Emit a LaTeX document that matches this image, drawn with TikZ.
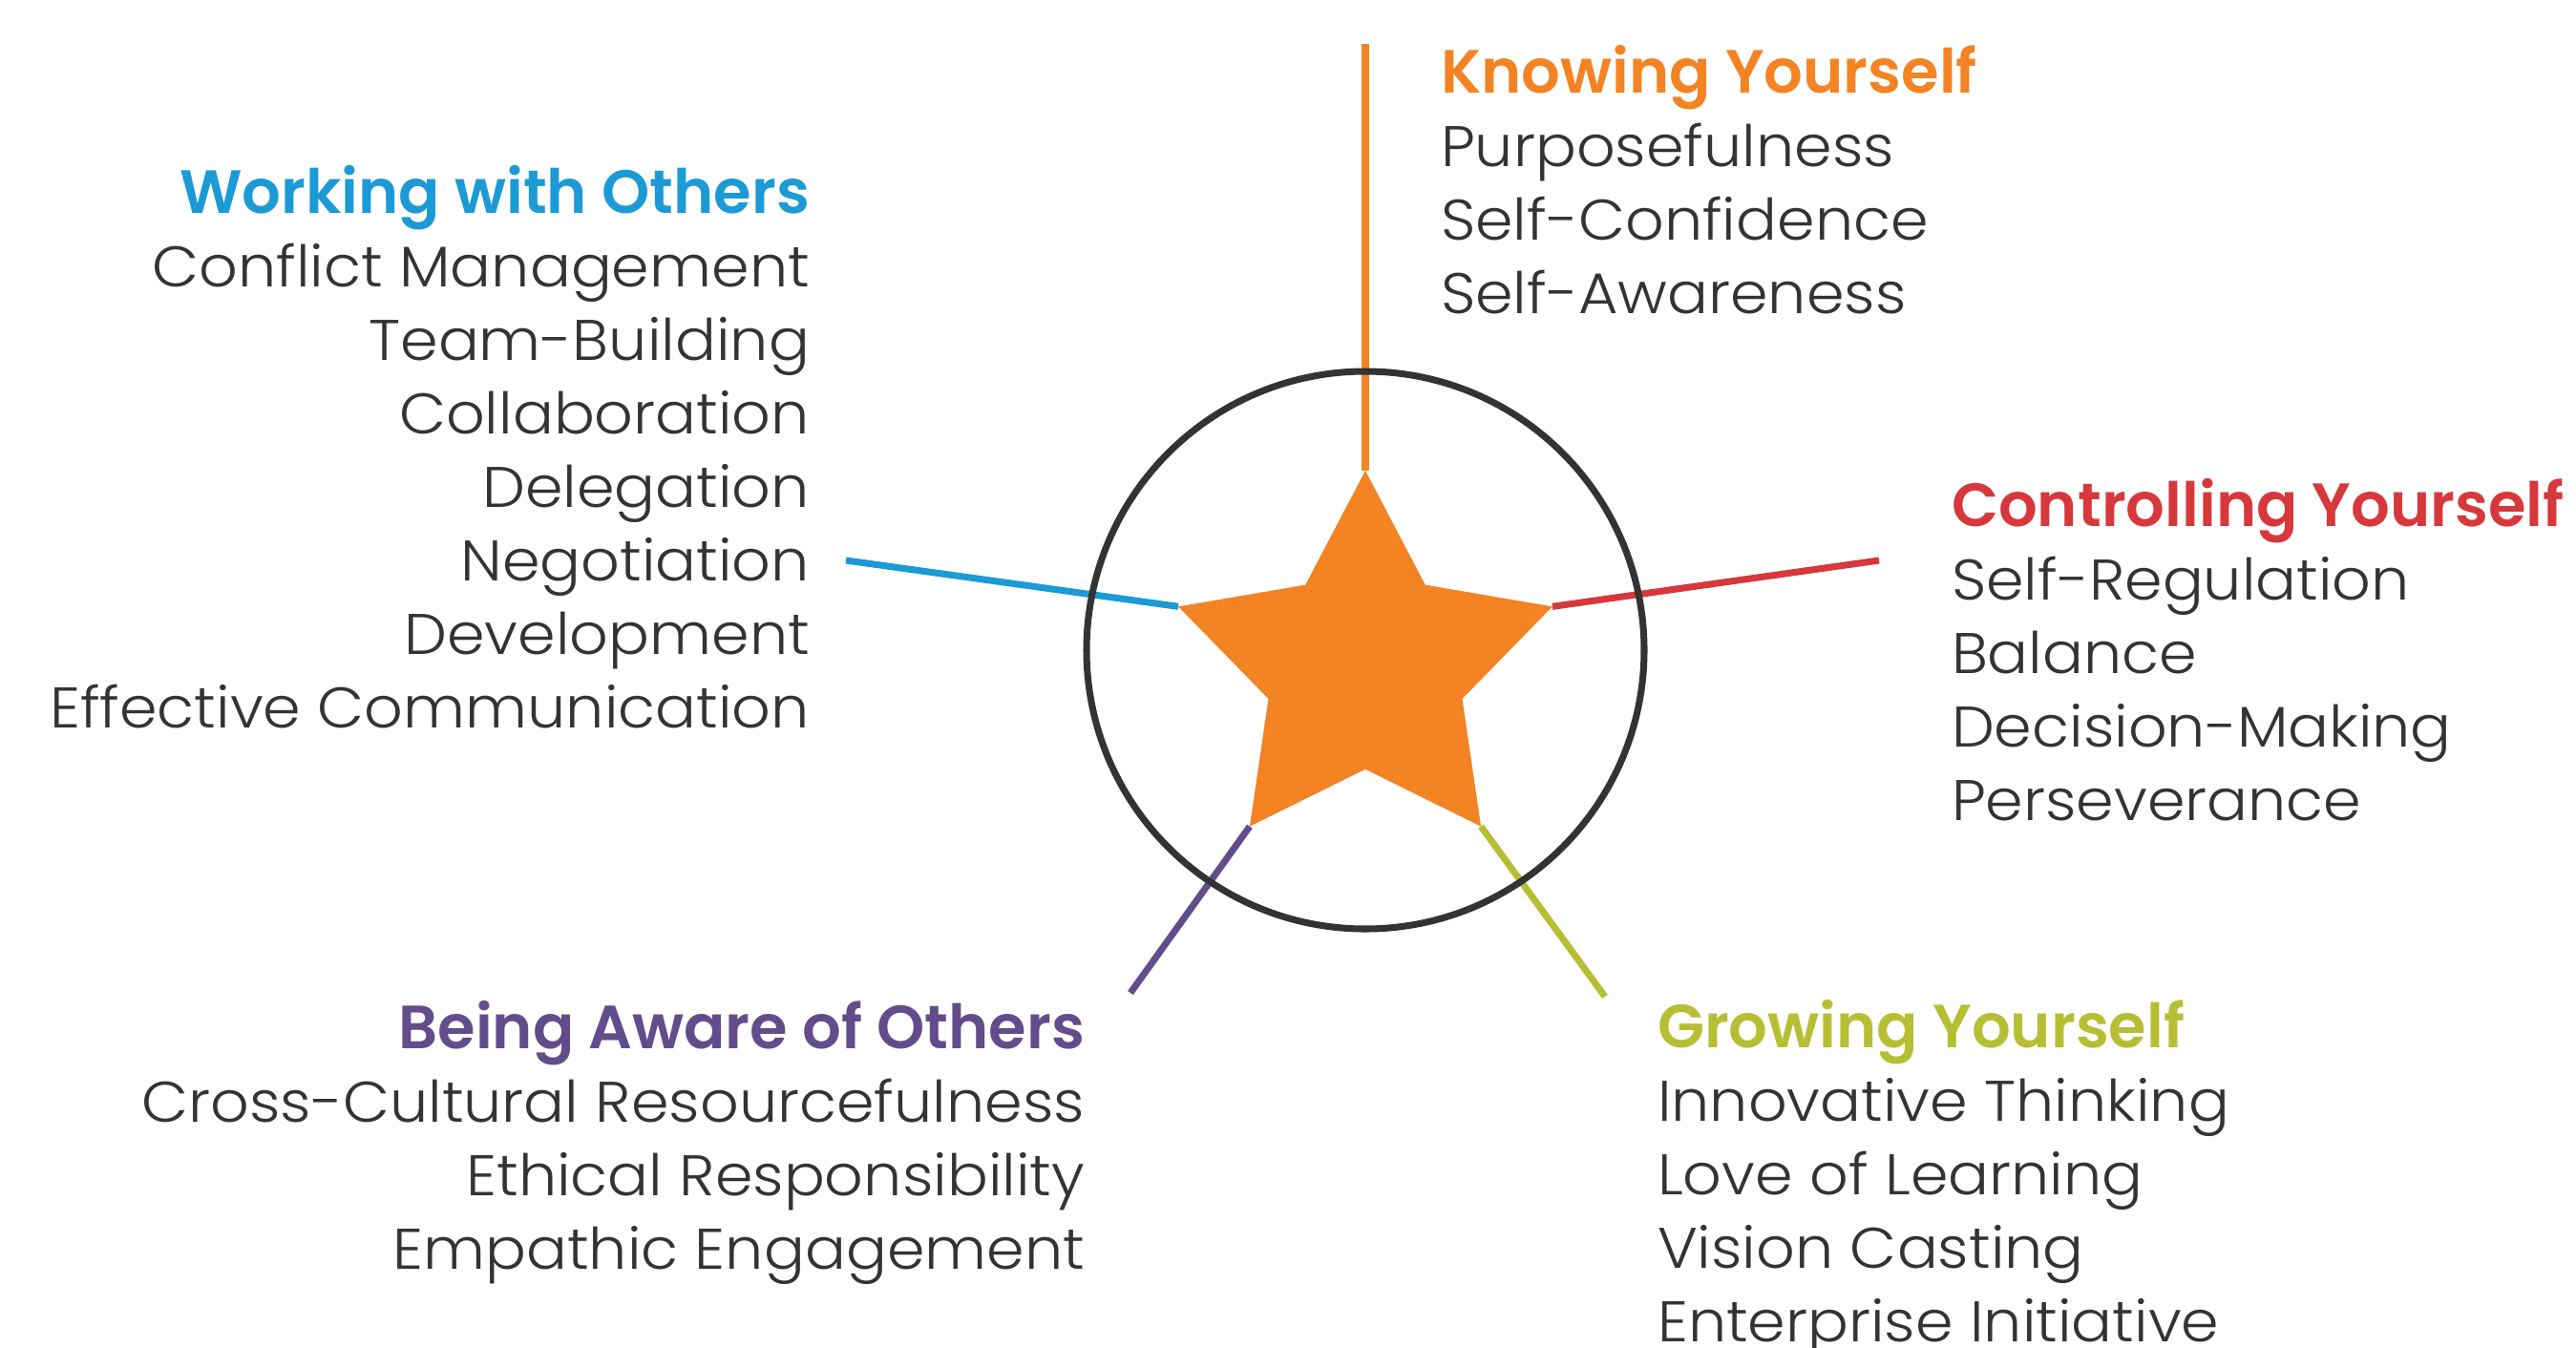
\documentclass[tikz,border=0pt]{standalone}
\usepackage{fontspec}
\newfontfamily\lightfont{Poppins Light}[FakeStretch=1.06]
\newfontfamily\headfont{Poppins SemiBold}
\usetikzlibrary{shapes.geometric, positioning}
\definecolor{knoworange}{RGB}{243,131,35}
\definecolor{workblue}{RGB}{27,154,214}
\definecolor{controlred}{RGB}{214,56,60}
\definecolor{awarepurple}{RGB}{99,76,140}
\definecolor{growgreen}{RGB}{183,190,52}
\definecolor{darkgrey}{RGB}{51,51,51}
\tikzset{
  spoke/.style={line width=2pt},
  group/.style={inner sep=0pt, outer sep=0pt, text=darkgrey,
    font=\lightfont\fontsize{17.07}{21.9}\selectfont},
}
\newcommand{\heading}[2]{{\headfont\fontsize{18.2}{21.9}\selectfont\color{#1}#2}}

\begin{document}
\begin{tikzpicture}
    \useasboundingbox (0,0) rectangle (26.98,-14.11);
    \node[star, star points=5, star point ratio=1.93, minimum size=4.12cm,
          inner sep=0pt, outer sep=0pt, fill=knoworange] (star) at (14.30,-6.99) {};
    \coordinate (knowtop) at (14.30,-0.46);
    \coordinate (workend) at (8.86,-5.87);
    \coordinate (controlend) at (19.68,-5.87);
    \coordinate (awareend) at (11.84,-10.40);
    \coordinate (growend) at (16.81,-10.44);
    \draw[spoke, knoworange] (star.outer point 1) -- (knowtop);
    \draw[spoke, workblue] (star.outer point 2) -- (workend);
    \draw[spoke, awarepurple] (star.outer point 3) -- (awareend);
    \draw[spoke, growgreen] (star.outer point 4) -- (growend);
    \draw[spoke, controlred] (star.outer point 5) -- (controlend);
    \node[circle, draw=darkgrey, line width=2pt, minimum size=5.84cm, inner sep=0pt] (ring) at (14.30,-6.81) {};

    % text blocks sit on the baseline of their last line
    \node[group, anchor=base west, align=left] (know) at (15.09,-3.28)
        {\heading{knoworange}{Knowing Yourself}\\ Purposefulness\\ Self-Confidence\\ Self-Awareness};
    \node[group, anchor=base east, align=right] (work) at (8.48,-7.62)
        {\heading{workblue}{Working with Others}\\ Conflict Management\\ Team-Building\\ Collaboration\\
         Delegation\\ Negotiation\\ Development\\ Effective Communication};
    \node[group, anchor=base west, align=left] (control) at (20.44,-8.59)
        {\heading{controlred}{Controlling Yourself}\\ Self-Regulation\\ Balance\\ Decision-Making\\ Perseverance};
    \node[group, anchor=base west, align=left] (grow) at (17.36,-14.05)
        {\heading{growgreen}{Growing Yourself}\\ Innovative Thinking\\ Love of Learning\\ Vision Casting\\ Enterprise Initiative};
    \node[group, anchor=base east, align=right] (aware) at (11.36,-13.29)
        {\heading{awarepurple}{Being Aware of Others}\\ Cross-Cultural Resourcefulness\\ Ethical Responsibility\\ Empathic Engagement};
\end{tikzpicture}
\end{document}
